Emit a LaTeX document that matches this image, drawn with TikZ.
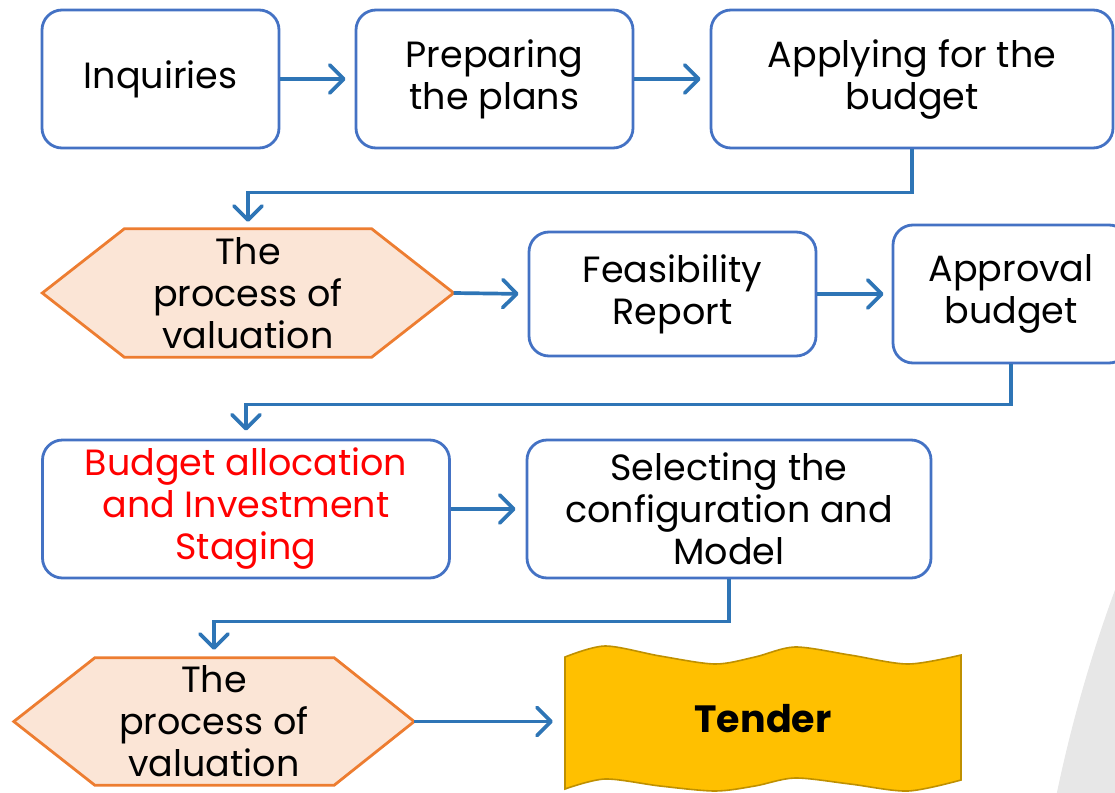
\documentclass[tikz,border=0pt]{standalone}
\usepackage{fontspec}
\setmainfont{Poppins}
\usetikzlibrary{arrows.meta,backgrounds}
\definecolor{boxblue}{HTML}{4472C4}
\definecolor{arrblue}{HTML}{2E75B6}
\definecolor{hexfill}{HTML}{FBE5D6}
\definecolor{hexline}{HTML}{ED7D31}
\definecolor{tenderfill}{HTML}{FFC000}
\definecolor{tenderline}{HTML}{BF9000}
\definecolor{bggray}{HTML}{E7E7E7}
\begin{document}
\begin{tikzpicture}[x=1pt,y=-1pt,
  txt/.style={align=center, inner sep=0pt, font=\fontsize{36.5}{42}\selectfont},
  procbox/.style={txt, draw=boxblue, line width=2.8pt, rounded corners=20pt, fill=white},
  hexshape/.style={fill=hexfill, draw=hexline, line width=2.8pt, line join=miter},
  arr/.style={draw=arrblue, line width=3.7pt, -{Straight Barb[length=14pt,width=28pt,round]}}]
\useasboundingbox (0,0) rectangle (1115,792);
\begin{scope}
  \clip (0,0) rectangle (1115,792);
  \fill[bggray] (2496.6,1096) circle[radius=1471];
\end{scope}

% row 1
\node[procbox, minimum width=237pt, minimum height=138pt] (inq) at (160.5,79) {Inquiries};
\node[procbox, minimum width=277pt, minimum height=138pt] (prep) at (494.5,79) {Preparing\\the plans};
\node[procbox, minimum width=402pt, minimum height=138pt] (apply) at (912,79) {Applying for the\\budget};

% row 2
\node[txt, minimum width=411pt, minimum height=128pt] (val1) at (248,293) {The\\process of\\valuation};
\node[procbox, minimum width=287pt, minimum height=124pt] (feas) at (672.5,294) {Feasibility\\Report};
\node[procbox, minimum width=236pt, minimum height=138pt] (appr) at (1011,294) {Approval\\budget};

% row 3
\node[procbox, text=red, minimum width=407pt, minimum height=138pt] (budg) at (246,509) {Budget allocation\\and Investment\\Staging};
\node[procbox, minimum width=404pt, minimum height=138pt] (sel) at (729,509) {Selecting the\\configuration and\\Model};

% row 4
\node[txt, minimum width=400pt, minimum height=127pt] (val2) at (214,721.5) {The\\process of\\valuation};
\node[inner sep=0pt, font=\bfseries\fontsize{38}{46}\selectfont, minimum width=396pt, minimum height=140pt] (tender) at (763,719) {Tender};

\begin{scope}[on background layer]
  \filldraw[hexshape] (val1.west) -- ([xshift=82pt]val1.north west) -- ([xshift=-82pt]val1.north east)
     -- (val1.east) -- ([xshift=-82pt]val1.south east) -- ([xshift=82pt]val1.south west) -- cycle;
  \filldraw[hexshape] (val2.west) -- ([xshift=81pt]val2.north west) -- ([xshift=-80pt]val2.north east)
     -- (val2.east) -- ([xshift=-80pt]val2.south east) -- ([xshift=81pt]val2.south west) -- cycle;
  \filldraw[fill=tenderfill, draw=tenderline, line width=1.6pt]
    plot[smooth] coordinates {(565,657) (605,646) (660,656) (715,664) (755,657) (795,647) (850,655) (908,664) (961,655)}
    -- plot[smooth] coordinates {(961,780) (908,791) (850,784) (795,778) (755,786) (715,791) (660,786) (605,779) (565,789)}
    -- cycle;
\end{scope}

% connectors
\draw[arr, shorten >=9pt] (inq.east) -- (prep.west);
\draw[arr, shorten >=9pt] (prep.east) -- (apply.west);
\draw[arr, shorten >=7pt] (apply.south) -- ++(0,43) -| (val1.north);
\draw[arr, shorten >=9pt] (val1.east) -- (feas.west);
\draw[arr, shorten >=8pt] (feas.east) -- (appr.west);
\draw[arr, shorten >=8pt] (appr.south) -- ++(0,40) -| (budg.north);
\draw[arr, shorten >=10pt] (budg.east) -- (sel.west);
\draw[arr, shorten >=8pt] (sel.south) -- ++(0,42) -| (val2.north);
\draw[arr, shorten >=12pt] (val2.east) -- (val2.east -| tender.west);
\end{tikzpicture}
\end{document}
